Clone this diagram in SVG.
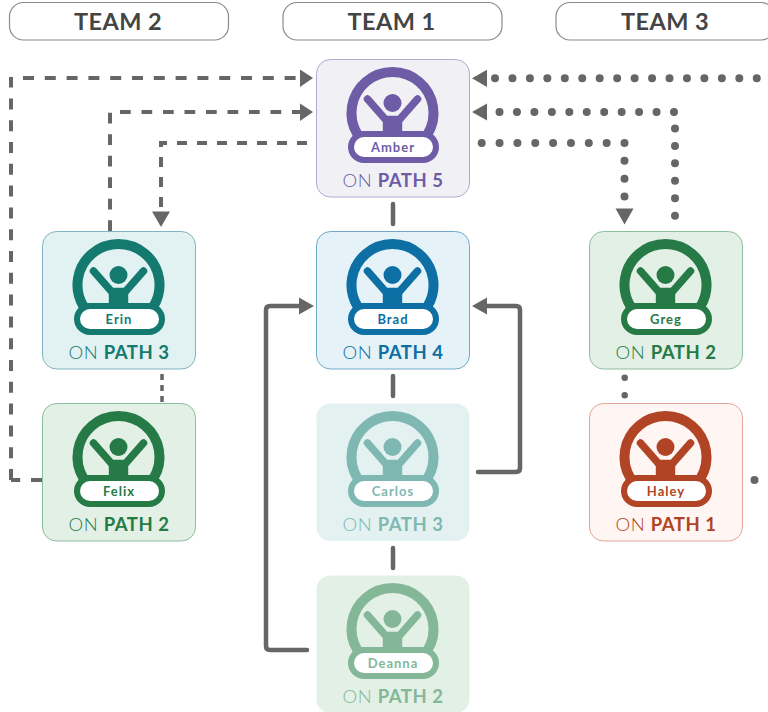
<svg xmlns="http://www.w3.org/2000/svg" width="768" height="712" viewBox="0 0 768 712">
<style>
text{font-family:"Lato","Liberation Sans",sans-serif;text-anchor:middle}
.hd{fill:#fff;stroke:#8a8a8a;stroke-width:1.2}
.ht{font-size:23.5px;font-weight:700;fill:#444;letter-spacing:.4px}
.box{stroke-width:1}
.nm{font-size:13px;font-weight:700;letter-spacing:1px;fill:currentColor}
.pt{font-size:18.5px;font-weight:300;letter-spacing:.5px;fill:currentColor}
.pt tspan{font-weight:700}
.l{fill:none;stroke:#666;stroke-width:4.5;stroke-linejoin:round;stroke-linecap:round}
.d{fill:none;stroke:#666;stroke-width:4}
.s{fill:none;stroke:#666;stroke-width:8;stroke-linecap:round;stroke-dasharray:0 17.45}
.a{fill:#666}
.purple{color:#6e5ca6}.blue{color:#0e6fa5}.teal{color:#14796f}.green{color:#267a46}.red{color:#b04424}
.tealf{color:#7fb8b3}.greenf{color:#84b797}
</style>
<defs>
<g id="icon">
<path d="M-35.200 74.500 A41 41 0 1 1 35.200 74.500" fill="none" stroke="currentColor" stroke-width="10"/>
<path d="M-25 39.500 L-7 60 H7 L25 39.500" fill="none" stroke="currentColor" stroke-width="7.500" stroke-linecap="round" stroke-linejoin="round"/>
<circle cx="0" cy="43.500" r="12"/>
<circle cx="0" cy="43.500" r="9" fill="currentColor"/>
<rect x="-9.700" y="58" width="19.400" height="20" fill="currentColor"/>
<rect x="-41.500" y="74.500" width="85" height="26" rx="13" fill="#fff" stroke="currentColor" stroke-width="6"/>
<rect x="-36" y="71.500" width="72" height="5" fill="currentColor"/>
</g>
</defs>
<g id="headers">
<g id="team2"><rect class="hd" x="9.500" y="2.500" width="219" height="37.500" rx="14"/><text class="ht" x="118" y="30">TEAM 2</text></g>
<g id="team1"><rect class="hd" x="283" y="2.500" width="219" height="37.500" rx="14"/><text class="ht" x="391.500" y="30">TEAM 1</text></g>
<g id="team3"><rect class="hd" x="556" y="2.500" width="219" height="37.500" rx="14"/><text class="ht" x="665" y="30">TEAM 3</text></g>
</g>
<g id="connectors">
<path class="l" d="M393 204V224M393 376V396M393 548V568"/>
<path class="l" d="M478 472H516Q520 472 520 468V310Q520 306 516 306H486"/>
<path class="l" d="M307 650H270Q266 650 266 646V310Q266 306 270 306H300"/>
<polygon class="a" points="472,306 487,297.500 487,314.500"/>
<polygon class="a" points="314,306 299,297.500 299,314.500"/>
<path class="d" stroke-dasharray="11 10.800" d="M42 480H11"/>
<path class="d" stroke-dasharray="11 10.800" d="M11 480V77"/>
<path class="d" stroke-dasharray="11 10.800" d="M23 78H300"/>
<polygon class="a" points="313,78 300,69.500 300,87"/>
<path class="d" stroke-dasharray="10.700 10.800" d="M110 231V112H300"/>
<polygon class="a" points="313,112 300,103.500 300,121"/>
<path class="d" stroke-dasharray="10 10" d="M307 143H161V210"/>
<polygon class="a" points="161,227 152,211.500 170,211.500"/>
<path class="d" style="stroke-width:3.500" stroke-dasharray="6 5" d="M162 374V402"/>
<path class="s" d="M495 78.300H770"/>
<polygon class="a" points="472,78.300 487,69.800 487,87"/>
<path class="s" d="M499.500 112H675V216"/>
<polygon class="a" points="472,112 487,103.500 487,120.500"/>
<path class="s" style="stroke-dasharray:0 17.85" d="M481.700 143H624.500V200"/>
<polygon class="a" points="624.500,224.500 615.500,208.500 633.500,208.500"/>
<path class="s" style="stroke-width:6.500" d="M624.700 377.700V396"/>
<path class="s" d="M754.500 480H765"/>
</g>
<g id="amber" class="purple" transform="translate(316.500 59.500)"><rect class="box" width="153" height="137.500" rx="14" fill="#f1f1f5" stroke="#b3a8d3"/><use href="#icon" x="76" y="0" fill="#f1f1f5"/><text class="nm" x="76.500" y="92.500">Amber</text><text class="pt" x="76.500" y="127">ON <tspan>PATH 5</tspan></text></g>
<g id="brad" class="blue" transform="translate(316.500 231.500)"><rect class="box" width="153" height="137.500" rx="14" fill="#e5f2f8" stroke="#6fa9ca"/><use href="#icon" x="76" y="0" fill="#e5f2f8"/><text class="nm" x="76.500" y="92.500">Brad</text><text class="pt" x="76.500" y="127">ON <tspan>PATH 4</tspan></text></g>
<g id="carlos" class="tealf" transform="translate(316.500 403.500)"><rect class="box" width="153" height="137.500" rx="14" fill="#e3f1f0"/><use href="#icon" x="76" y="0" fill="#e3f1f0"/><text class="nm" x="76.500" y="92.500">Carlos</text><text class="pt" x="76.500" y="127">ON <tspan>PATH 3</tspan></text></g>
<g id="deanna" class="greenf" transform="translate(316.500 575.500)"><rect class="box" width="153" height="137.500" rx="14" fill="#e3f0e6"/><use href="#icon" x="76" y="0" fill="#e3f0e6"/><text class="nm" x="76.500" y="92.500">Deanna</text><text class="pt" x="76.500" y="127">ON <tspan>PATH 2</tspan></text></g>
<g id="erin" class="teal" transform="translate(42.500 231.500)"><rect class="box" width="153" height="137.500" rx="14" fill="#e2f1f1" stroke="#7fb4c0"/><use href="#icon" x="76" y="0" fill="#e2f1f1"/><text class="nm" x="76.500" y="92.500">Erin</text><text class="pt" x="76.500" y="127">ON <tspan>PATH 3</tspan></text></g>
<g id="felix" class="green" transform="translate(42.500 403.500)"><rect class="box" width="153" height="137.500" rx="14" fill="#e3f0e6" stroke="#8cbd9f"/><use href="#icon" x="76" y="0" fill="#e3f0e6"/><text class="nm" x="76.500" y="92.500">Felix</text><text class="pt" x="76.500" y="127">ON <tspan>PATH 2</tspan></text></g>
<g id="greg" class="green" transform="translate(589.500 231.500)"><rect class="box" width="153" height="137.500" rx="14" fill="#e3f0e6" stroke="#8cbd9f"/><use href="#icon" x="76" y="0" fill="#e3f0e6"/><text class="nm" x="76.500" y="92.500">Greg</text><text class="pt" x="76.500" y="127">ON <tspan>PATH 2</tspan></text></g>
<g id="haley" class="red" transform="translate(589.500 403.500)"><rect class="box" width="153" height="137.500" rx="14" fill="#fff6f3" stroke="#e4a493"/><use href="#icon" x="76" y="0" fill="#fff6f3"/><text class="nm" x="76.500" y="92.500">Haley</text><text class="pt" x="76.500" y="127">ON <tspan>PATH 1</tspan></text></g>
</svg>
